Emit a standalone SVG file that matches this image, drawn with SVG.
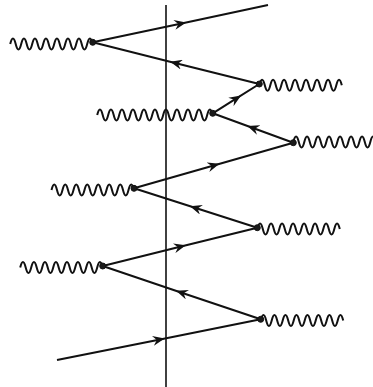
<svg xmlns="http://www.w3.org/2000/svg" width="373" height="387" viewBox="0 0 373 387">
<style>
.ln{stroke:#111;stroke-width:2;fill:none;marker-mid:url(#arr)}
.wv{stroke:#111;stroke-width:2;fill:none}
.dot{fill:#1a1a1a;stroke:#111;stroke-width:1}
</style>
<defs>
<marker id="arr" viewBox="0 0 12 10" refX="6" refY="5" markerWidth="12" markerHeight="10" markerUnits="userSpaceOnUse" orient="auto">
<path d="M0,0 L12,5 L0,10 L4,5 z" fill="#111"/>
</marker>
<path id="w15" d="M0,0 q2.75,-11 5.5,0 t5.5,0 t5.5,0 t5.5,0 t5.5,0 t5.5,0 t5.5,0 t5.5,0 t5.5,0 t5.5,0 t5.5,0 t5.5,0 t5.5,0 t5.5,0 t5.5,0"/>
</defs>
<rect width="373" height="387" fill="#fff"/>
<g id="wall"><line x1="166" y1="5" x2="166" y2="387" stroke="#111" stroke-width="1.6"/></g>
<g id="connectors">
<polyline class="ln" points="57,360 158.8,339.7 260.7,319.3"/>
<polyline class="ln" points="260.7,319.3 181.7,292.7 102.7,266"/>
<polyline class="ln" points="102.7,266 180,246.8 257.3,227.7"/>
<polyline class="ln" points="257.3,227.7 195.7,208 134,188.3"/>
<polyline class="ln" points="134,188.3 213.7,165.5 293.3,142.7"/>
<polyline class="ln" points="293.3,142.7 253,128 212.7,113.3"/>
<polyline class="ln" points="212.7,113.3 236,98.7 259.3,84"/>
<polyline class="ln" points="259.3,84 176,63.2 92.7,42.3"/>
<polyline class="ln" points="92.7,42.3 180.3,23.7 268,5"/>
</g>
<g id="v1"><use href="#w15" class="wv" x="10.2" y="44"/><circle class="dot" cx="92.7" cy="42.3" r="3"/></g>
<g id="v2"><use href="#w15" class="wv" x="259.3" y="85.3"/><circle class="dot" cx="259.3" cy="84" r="3"/></g>
<g id="v3"><path class="wv" d="M97.2,115 q2.75,-11 5.5,0 t5.5,0 t5.5,0 t5.5,0 t5.5,0 t5.5,0 t5.5,0 t5.5,0 t5.5,0 t5.5,0 t5.5,0 t5.5,0 t5.5,0 t5.5,0 t5.5,0 t5.5,0 t5.5,0 t5.5,0 t5.5,0 t5.5,0 t5.5,0"/><circle class="dot" cx="212.7" cy="113.3" r="3"/></g>
<g id="v4"><use href="#w15" class="wv" x="293.3" y="142"/><circle class="dot" cx="293.3" cy="142.7" r="3"/></g>
<g id="v5"><use href="#w15" class="wv" x="51.5" y="190"/><circle class="dot" cx="134" cy="188.3" r="3"/></g>
<g id="v6"><use href="#w15" class="wv" x="257.3" y="229"/><circle class="dot" cx="257.3" cy="227.7" r="3"/></g>
<g id="v7"><use href="#w15" class="wv" x="20.2" y="267.5"/><circle class="dot" cx="102.7" cy="266" r="3"/></g>
<g id="v8"><use href="#w15" class="wv" x="260.7" y="320.5"/><circle class="dot" cx="260.7" cy="319.3" r="3"/></g>
</svg>
